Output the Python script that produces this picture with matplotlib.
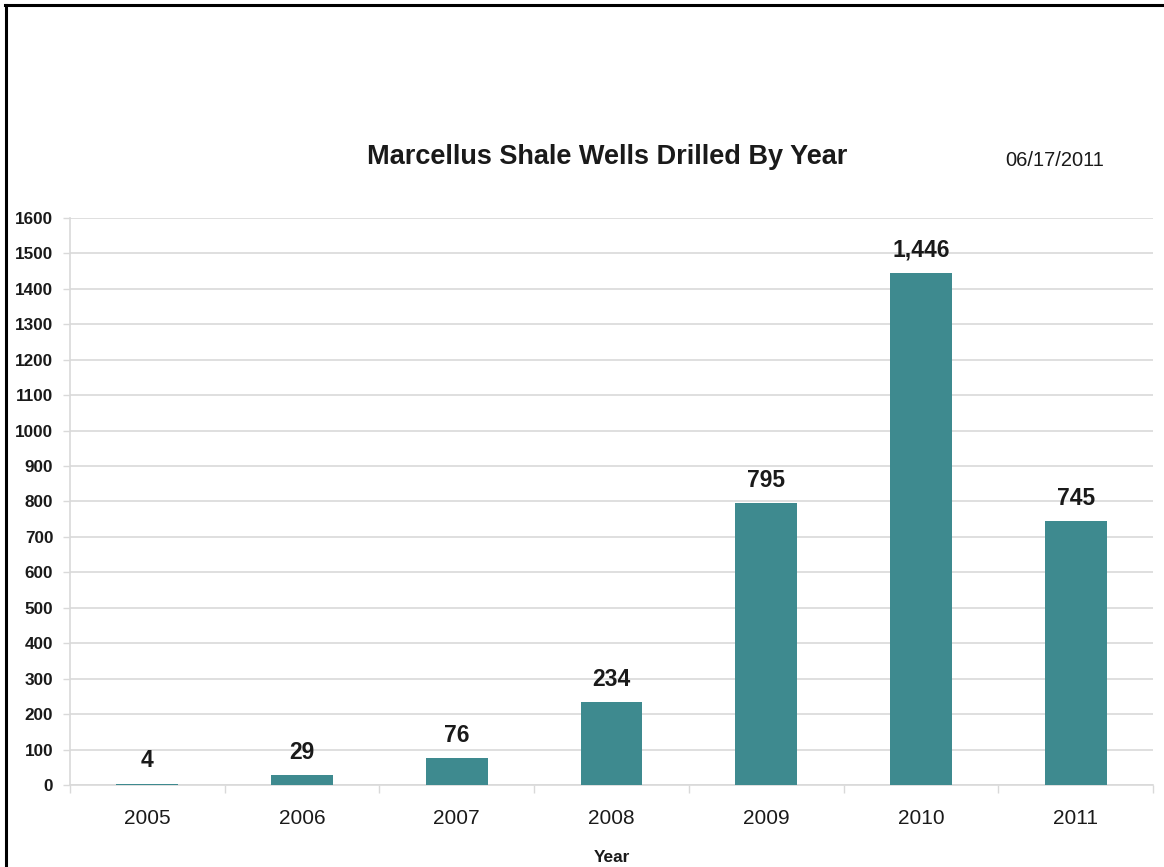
import matplotlib
matplotlib.use("Agg")
import matplotlib.pyplot as plt
from matplotlib.lines import Line2D

plt.rcParams['font.family'] = ['Liberation Sans', 'DejaVu Sans']

years = ["2005", "2006", "2007", "2008", "2009", "2010", "2011"]
wells = [4, 29, 76, 234, 795, 1446, 745]
y_ticks = list(range(0, 1601, 100))

bar_color = "#3e8a8f"
grid_color = "#d9d9d9"
text_color = "#1a1a1a"

fig = plt.figure(figsize=(11.64, 8.67), dpi=100)
ax = fig.add_axes([0.0601, 0.0946, 0.9304, 0.654])

x = list(range(len(years)))
bars = ax.bar(x, wells, width=0.4, color=bar_color, zorder=3)

ax.set_xlim(-0.5, len(years) - 0.5)
ax.set_ylim(0, 1600)
ax.set_yticks(y_ticks)
ax.set_yticklabels([str(v) for v in y_ticks], fontsize=12.3, fontweight="bold",
                   color=text_color)
ax.set_xticks(x)
ax.set_xticklabels(years, fontsize=15, color=text_color)
ax.tick_params(axis="x", length=0, pad=17)
ax.tick_params(axis="y", length=5, width=1, color=grid_color, pad=7)

# category separators on the x axis
ax.set_xticks([i - 0.5 for i in range(len(years) + 1)], minor=True)
ax.tick_params(axis="x", which="minor", length=6, width=1, color=grid_color)

ax.yaxis.grid(True, color=grid_color, linewidth=1.2, zorder=0)
for side in ["top", "right"]:
    ax.spines[side].set_visible(False)
for side in ["left", "bottom"]:
    ax.spines[side].set_color(grid_color)
    ax.spines[side].set_linewidth(1.2)

for rect, val in zip(bars, wells):
    ax.annotate(f"{val:,}", (rect.get_x() + rect.get_width() / 2, val),
                xytext=(0, 8), textcoords="offset points",
                ha="center", va="bottom", fontsize=16.5, fontweight="bold",
                color=text_color)

ax.set_xlabel("Year", fontsize=12.4, fontweight="bold", color=text_color,
              labelpad=16)

fig.text(0.522, 0.819, "Marcellus Shale Wells Drilled By Year", ha="center",
         va="center", fontsize=19.5, fontweight="bold", color=text_color)
fig.text(0.906, 0.815, "06/17/2011", ha="center", va="center", fontsize=14.5,
         color=text_color)

# outer frame, left and top edges only
fig.add_artist(Line2D([0.0052, 0.0052], [0.0, 0.9940], transform=fig.transFigure,
                      color="black", linewidth=2.2))
fig.add_artist(Line2D([0.0043, 1.0], [0.9940, 0.9940], transform=fig.transFigure,
                      color="black", linewidth=2.2))

fig.savefig("out.png", dpi=100)
